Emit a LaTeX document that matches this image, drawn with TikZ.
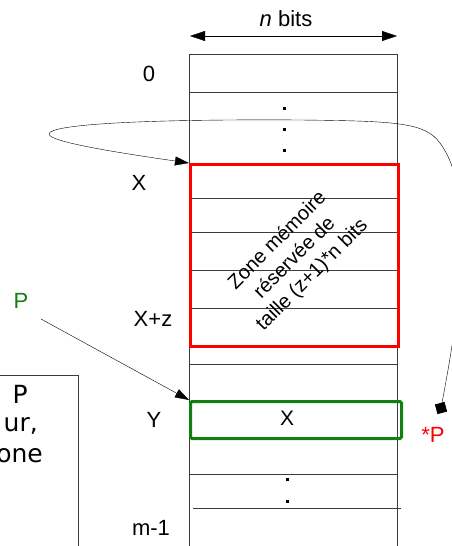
\documentclass[tikz,border=0pt]{standalone}
\usepackage{fontspec}
\setmainfont{Liberation Sans}
\newfontfamily\dejavu{DejaVu Sans}
\usetikzlibrary{arrows.meta}
\definecolor{zred}{RGB}{255,0,0}
\definecolor{zgreen}{RGB}{16,128,16}
\definecolor{lgray}{RGB}{60,60,60}
\begin{document}
\begin{tikzpicture}[x=1pt,y=-1pt,
  lbl/.style={font=\fontsize{22}{26}\selectfont, inner sep=0pt},
  ltxt/.style={font=\dejavu\fontsize{25}{30}\selectfont, inner sep=0pt},
  cellline/.style={draw=lgray, line width=0.8pt},
  tri/.style={-{Triangle[length=14pt,width=9pt]}},
  dotsq/.style={fill=black}]
\useasboundingbox (0,0) rectangle (452,546);
\fill[white] (0,0) rectangle (452,546);
% column
\node[draw=lgray, line width=0.8pt, anchor=north west, minimum width=208pt, minimum height=520pt, inner sep=0pt] (col) at (189,54) {};
\foreach \yy in {92,163,198,232,270,308,347,364,474}
  \draw[cellline] (189,\yy) -- (397,\yy);
\draw[cellline] (193,508) -- (401,508);
% dots
\foreach \yy in {108,129,150} \fill[dotsq] (282.5,\yy-1.5) rectangle ++(3,3);
\foreach \yy in {479,501} \fill[dotsq] (285.5,\yy-1.5) rectangle ++(3,3);
% reserved zone
\node[draw=zred, line width=3pt, anchor=north west, minimum width=208pt, minimum height=182pt, inner sep=0pt] (zone) at (189,163) {};
\node[font=\fontsize{20}{24.5}\selectfont, align=center, rotate=45, inner sep=0pt] (ztxt) at (295,258) {Zone mémoire\\réservée de\\taille (z+1)*n bits};
% green cell
\node[draw=zgreen, line width=3pt, rounded corners=1.5pt, anchor=north west, minimum width=211pt, minimum height=37pt, inner sep=0pt] (celly) at (189,400) {};
\node[lbl, font=\fontsize{21}{25}\selectfont] (xval) at (287,418) {X};
% n bits
\coordinate (nl) at (190,36);
\coordinate (nr) at (397,36);
\draw[{Triangle[length=15pt,width=10pt]}-{Triangle[length=15pt,width=10pt]}] (nl) -- (nr);
\node[lbl] (nb) at (286,19) {\textit{n} bits};
% row labels
\node[lbl] (l0) at (149,74) {0};
\node[lbl] (lx) at (139,183) {X};
\node[lbl] (lxz) at (153,319) {X+z};
\node[lbl] (ly) at (154,420) {Y};
\node[lbl] (lm) at (151,528) {m-1};
% pointer P
\node[lbl, text=zgreen] (p) at (21,301) {P};
\coordinate (pstart) at (41,319);
\draw[tri] (pstart) -- (celly.north west);
% *P
\node[lbl, text=zred] (sp) at (433,435) {*P};
\node[fill=black, minimum size=10pt, inner sep=0pt, rotate=15] (sq) at (441,408) {};
\draw[tri] (sq.center) .. controls (462,300) and (475,190) .. (440,143)
  .. controls (425,123) and (400,121) .. (300,120)
  .. controls (150,119) and (49,124) .. (49,134)
  .. controls (49,142) and (120,153) .. (zone.north west);
% left box (cut off)
\node[draw=lgray, line width=0.8pt, anchor=north east, minimum width=160pt, minimum height=220pt, inner sep=0pt] (lbox) at (79,375) {};
\node[ltxt, anchor=base east] (t1) at (28,403) {P};
\node[ltxt, anchor=base east] (t2) at (38,431) {ur,};
\node[ltxt, anchor=base east] (t3) at (43,462) {one};
\end{tikzpicture}
\end{document}
